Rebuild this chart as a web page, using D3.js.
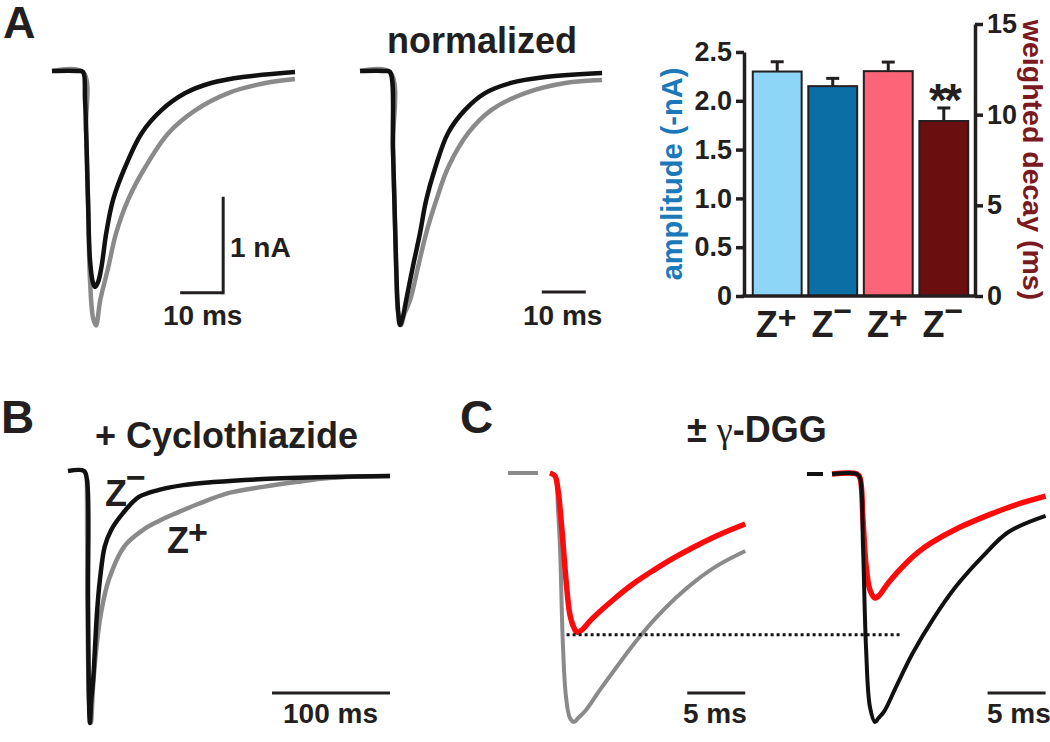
<!DOCTYPE html>
<html><head><meta charset="utf-8">
<script src="https://cdn.jsdelivr.net/npm/d3@7"></script>
<style>body{margin:0;background:#fff}svg{display:block}</style>
</head><body>
<svg id="fig" width="1050" height="742"></svg>
<script>
// ---------------- DATA ----------------
// Panel A, raw traces: [time (ms), current (nA)]
const a1Black = [[-7.2,0],[-1.2,0],[0,-0.01],[0.47,-0.30],[1.16,-1.34],[1.63,-1.97],[2.33,-2.21],[2.79,-2.25],[3.5,-2.20],[4.3,-2.04],[5.4,-1.69],[7.0,-1.34],[9.8,-1.00],[13.6,-0.65],[18.2,-0.41],[23.8,-0.23],[29.8,-0.125],[37.7,-0.06],[49.3,-0.01]];
const a1Gray = [[-7.2,0],[0,-0.01],[0.7,-0.61],[1.16,-1.34],[1.63,-2.18],[2.33,-2.57],[3.02,-2.65],[4.0,-2.39],[5.9,-2.04],[7.7,-1.69],[10.5,-1.34],[14.5,-1.00],[19.8,-0.65],[26.1,-0.41],[33.8,-0.23],[42.4,-0.125],[49.3,-0.083]];
// Panel A, normalized traces: [time (ms), fraction of peak]
const a2Black = [[-6.8,0],[-1.1,0],[0,-0.004],[0.68,-0.31],[1.36,-0.744],[1.82,-0.94],[2.27,-1.0],[2.9,-0.97],[3.7,-0.90],[5.2,-0.77],[6.8,-0.64],[8.2,-0.51],[10.3,-0.38],[13.2,-0.244],[17.0,-0.154],[21.6,-0.087],[27.5,-0.047],[35.3,-0.024],[48.2,-0.008]];
const a2Gray = [[-6.8,0],[0,-0.004],[0.68,-0.31],[1.36,-0.744],[1.82,-0.95],[2.5,-1.0],[3.2,-0.96],[4.6,-0.90],[6.4,-0.77],[8.2,-0.64],[10.5,-0.51],[13.2,-0.38],[17.8,-0.244],[23.0,-0.154],[30.7,-0.087],[39.8,-0.047],[48.2,-0.035]];
// Panel A, bar chart
const barCategories = ["Z+","Z\u2212","Z+ ","Z\u2212 "];
const amplitudeMean = [2.30, 2.15];          // -nA
const amplitudeSem  = [0.10, 0.08];
const decayMean     = [12.4, 9.65];          // ms
const decaySem      = [0.50, 0.72];
const ampTicks   = [0, 0.5, 1.0, 1.5, 2.0, 2.5];
const decayTicks = [0, 5, 10, 15];
// Panel B (+ cyclothiazide): [time (ms), fraction of peak]
const bBlack = [[-16.1,0],[-2.5,0],[0,-0.036],[0.85,-0.51],[1.7,-0.91],[2.5,-1.0],[3.6,-0.91],[5.2,-0.83],[6.8,-0.70],[8.5,-0.56],[11.0,-0.43],[15.0,-0.30],[20.5,-0.234],[30.5,-0.167],[44.0,-0.103],[61.0,-0.075],[81.5,-0.056],[107,-0.044],[149,-0.032],[205,-0.024],[256.8,-0.02]];
const bGray = [[0,-0.036],[1.7,-0.91],[3.2,-1.0],[5.5,-0.83],[8.0,-0.70],[12.0,-0.56],[18.6,-0.43],[31.5,-0.30],[47.5,-0.234],[60.2,-0.200],[74.6,-0.169],[94.1,-0.131],[120.3,-0.087],[149,-0.063],[177,-0.044],[205,-0.028],[256.8,-0.02]];
// Panel C (± gamma-DGG): [time (ms), fraction of control peak]; null = gap
const cLeftGray = [[-4.05,0],[-1.47,0],null,[-0.43,0],[0,-0.012],[0.26,-0.149],[0.43,-0.297],[0.69,-0.699],[0.95,-0.90],[1.29,-0.984],[1.64,-1.0],[2.0,-0.984],[2.6,-0.956],[3.8,-0.876],[5.25,-0.783],[7.0,-0.675],[8.7,-0.582],[10.4,-0.502],[12.1,-0.434],[14.1,-0.369],[16.4,-0.313]];
const cLeftRed = [[-0.43,0],[0,-0.012],[0.26,-0.068],[0.60,-0.229],[0.95,-0.43],[1.29,-0.57],[1.64,-0.622],[1.9,-0.639],[2.33,-0.63],[3.1,-0.59],[5.0,-0.51],[6.72,-0.446],[8.45,-0.392],[10.17,-0.343],[11.9,-0.299],[14.2,-0.247],[16.4,-0.205]];
const cRightBlack = [[-4.57,0],[-3.19,0],null,[-2.41,0],[-0.26,0],[0,-0.016],[0.26,-0.294],[0.52,-0.70],[0.86,-0.94],[1.29,-1.0],[1.6,-0.984],[2.1,-0.956],[3.1,-0.859],[4.55,-0.722],[6.3,-0.585],[8.3,-0.452],[10.6,-0.331],[12.8,-0.234],[16.0,-0.169]];
const cRightRed = [[-2.41,0],[-0.26,0],[0,-0.016],[0.26,-0.185],[0.52,-0.367],[0.86,-0.468],[1.29,-0.50],[1.6,-0.492],[2.5,-0.435],[4.16,-0.351],[5.02,-0.315],[6.14,-0.278],[8.47,-0.218],[11.32,-0.161],[13.64,-0.121],[16.0,-0.089]];
const dgReference = -0.65; // level of gamma-DGG peak (dotted line)

// ---------------- STYLE ----------------
const FONT = "'Liberation Sans', Arial, Helvetica, sans-serif";
const INK = "#231f20";
const GRAY = "#8a8a8a";
const RED = "#ff0a0a";
const barFill = ["#8ed6f8", "#0b6fa6", "#fe6478", "#6b0e10"];

const svg = d3.select("#fig");
svg.append("rect").attr("width",1050).attr("height",742).attr("fill","#fff");

function txt(x, y, s, size, opts={}) {
  const t = svg.append("text").attr("x", x).attr("y", y).text(s)
    .attr("font-family", FONT).attr("font-size", size)
    .attr("font-weight", opts.weight || "bold").attr("fill", opts.fill || INK);
  if (opts.anchor) t.attr("text-anchor", opts.anchor);
  if (opts.transform) t.attr("transform", opts.transform);
  return t;
}

function trace(xs, ys, data, color, width) {
  const line = d3.line().defined(d => d !== null)
    .x(d => xs(d[0])).y(d => ys(d[1])).curve(d3.curveCatmullRom.alpha(0.5));
  svg.append("path").attr("d", line(data)).attr("fill","none")
    .attr("stroke", color).attr("stroke-width", width)
    .attr("stroke-linejoin","round");
}
function hbar(xs, ys, t0, len, lvl) {
  svg.append("line").attr("x1", xs(t0)).attr("x2", xs(t0+len))
    .attr("y1", ys(lvl)).attr("y2", ys(lvl)).attr("stroke", INK).attr("stroke-width", 3);
}

// ---------------- PANEL A ----------------
txt(3, 38, "A", 45);
// raw traces: 10 ms = 43 px, 1 nA = 96 px
const xA1 = d3.scaleLinear().domain([0, 10]).range([83, 126]);
const yA1 = d3.scaleLinear().domain([0, -1]).range([71, 167]);
trace(xA1, yA1, a1Gray, GRAY, 4.5);
trace(xA1, yA1, a1Black, "#111", 4.5);
// scale bars 10 ms / 1 nA
const sbT = 32.6, sbI = -2.31;
hbar(xA1, yA1, sbT - 10, 10, sbI);
svg.append("line").attr("x1", xA1(sbT)).attr("x2", xA1(sbT))
  .attr("y1", yA1(sbI) + 1.5).attr("y2", yA1(sbI + 1)).attr("stroke", INK).attr("stroke-width", 3);
txt(230, 257, "1 nA", 28);
txt(163, 325, "10 ms", 28);

// normalized traces
txt(387, 53, "normalized", 36);
const xA2 = d3.scaleLinear().domain([0, 10]).range([390, 434]);
const yA2 = d3.scaleLinear().domain([0, -1]).range([71, 325]);
trace(xA2, yA2, a2Gray, GRAY, 4.5);
trace(xA2, yA2, a2Black, "#111", 4.5);
hbar(xA2, yA2, 34.5, 10, -0.87);
txt(523, 325, "10 ms", 28);

// bar chart
const xBand = d3.scaleBand().domain(barCategories).range([750, 971]).paddingInner(0.12).paddingOuter(0.05);
const yAmp = d3.scaleLinear().domain([0, 2.5]).range([296, 52]);
const yDec = d3.scaleLinear().domain([0, 15]).range([296, 24]);
const barData = [
  {c: barCategories[0], v: amplitudeMean[0], e: amplitudeSem[0], s: yAmp},
  {c: barCategories[1], v: amplitudeMean[1], e: amplitudeSem[1], s: yAmp},
  {c: barCategories[2], v: decayMean[0], e: decaySem[0], s: yDec},
  {c: barCategories[3], v: decayMean[1], e: decaySem[1], s: yDec}
];
const gb = svg.append("g");
barData.forEach((d, i) => {
  const x = xBand(d.c), w = xBand.bandwidth(), cx = x + w/2;
  gb.append("line").attr("x1", cx).attr("x2", cx).attr("y1", d.s(d.v)).attr("y2", d.s(d.v + d.e))
    .attr("stroke", INK).attr("stroke-width", 3);
  gb.append("line").attr("x1", cx - 6.5).attr("x2", cx + 6.5).attr("y1", d.s(d.v + d.e)).attr("y2", d.s(d.v + d.e))
    .attr("stroke", INK).attr("stroke-width", 3);
  gb.append("rect").attr("x", x).attr("y", d.s(d.v)).attr("width", w).attr("height", d.s(0) - d.s(d.v))
    .attr("fill", barFill[i]).attr("stroke", INK).attr("stroke-width", 2);
});
// axes
const axL = d3.axisLeft(yAmp).tickValues(ampTicks).tickSize(8).tickSizeOuter(0).tickPadding(4)
  .tickFormat(d => d === 0 ? "0" : d3.format(".1f")(d));
const gL = svg.append("g").attr("transform", "translate(744,0)").call(axL);
const axR = d3.axisRight(yDec).tickValues(decayTicks).tickSize(8).tickSizeOuter(0).tickPadding(4);
const gR = svg.append("g").attr("transform", "translate(975,0)").call(axR);
[gL, gR].forEach(g => {
  g.select(".domain").attr("stroke", INK).attr("stroke-width", 3.5);
  g.selectAll(".tick line").attr("stroke", INK).attr("stroke-width", 3.5);
  g.selectAll(".tick text").attr("font-family", FONT).attr("font-size", 27)
    .attr("font-weight", "bold").attr("fill", INK);
});
svg.append("line").attr("x1", 742.5).attr("x2", 976.5).attr("y1", yAmp(0)).attr("y2", yAmp(0))
  .attr("stroke", INK).attr("stroke-width", 3.5);
// category labels Z+ / Z-
barCategories.forEach(c => {
  const cx = xBand(c) + xBand.bandwidth()/2 - 1;
  const plus = c.trim() === "Z+";
  const t = svg.append("text").attr("x", cx).attr("y", 337).attr("text-anchor", "middle")
    .attr("font-family", FONT).attr("font-weight", "bold").attr("fill", INK).attr("font-size", 36);
  t.append("tspan").text("Z");
  t.append("tspan").attr("font-size", 32).attr("dy", plus ? -9 : -15).text(plus ? "+" : "\u2212");
});
txt(944, 116, "**", 46, {anchor: "middle"}).attr("letter-spacing", -3);
txt(682, 174, "amplitude (-nA)", 29, {anchor: "middle", fill: "#1b79ba", transform: "rotate(-90,682,174)"});
txt(1023, 160, "weighted decay (ms)", 28.5, {anchor: "middle", fill: "#7b1a1e", transform: "rotate(90,1023,160)"});

// ---------------- PANEL B ----------------
txt(1, 433, "B", 46);
txt(95, 448, "+ Cyclothiazide", 36);
const xB = d3.scaleLinear().domain([0, 100]).range([87, 205]);
const yB = d3.scaleLinear().domain([0, -1]).range([471, 723]);
trace(xB, yB, bGray, GRAY, 4.5);
trace(xB, yB, bBlack, "#111", 4.5);
hbar(xB, yB, 156.8, 100, -0.881);
txt(283, 723, "100 ms", 28);
txt(105, 506, "Z", 36);
txt(126, 489, "\u2212", 34);
txt(167, 553, "Z", 36);
txt(188, 544, "+", 34);

// ---------------- PANEL C ----------------
txt(460, 433, "C", 46);
{
  const t = svg.append("text").attr("x", 687).attr("y", 442).attr("font-family", FONT)
    .attr("font-weight", "bold").attr("font-size", 36).attr("fill", INK);
  t.append("tspan").text("\u00b1 ");
  t.append("tspan").attr("font-family", "'Liberation Serif', 'DejaVu Serif', serif")
    .attr("font-weight", "normal").text("\u03b3");
  t.append("tspan").text("-DGG");
}
const xCL = d3.scaleLinear().domain([0, 5]).range([555, 613]);
const yCL = d3.scaleLinear().domain([0, -1]).range([473, 722]);
const xCR = d3.scaleLinear().domain([0, 5]).range([860, 918]);
const yCR = d3.scaleLinear().domain([0, -1]).range([474, 722]);
trace(xCL, yCL, cLeftGray, GRAY, 4);
trace(xCL, yCL, cLeftRed, RED, 5.5);
trace(xCR, yCR, cRightRed, RED, 5.5);
trace(xCR, yCR, cRightBlack, "#111", 4);
// dotted reference line at gamma-DGG peak level
svg.append("line").attr("x1", xCL(1.0)).attr("x2", xCL(29.7))
  .attr("y1", yCL(dgReference)).attr("y2", yCL(dgReference))
  .attr("stroke", "#111").attr("stroke-width", 3).attr("stroke-dasharray", "3,3");
hbar(xCL, yCL, 11.4, 5, -0.884);
hbar(xCR, yCR, 11.0, 5, -0.883);
txt(683, 723, "5 ms", 28);
txt(987, 723, "5 ms", 28);
</script>
</body></html>
